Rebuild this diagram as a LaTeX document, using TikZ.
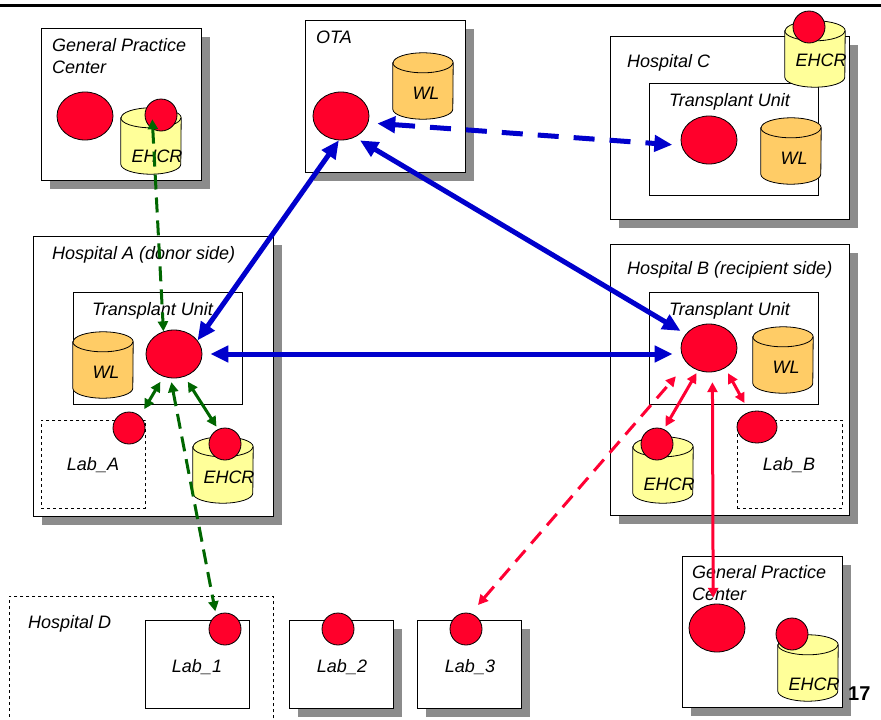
\documentclass[tikz,border=0pt]{standalone}
\usepackage{fontspec}
\setmainfont{Liberation Sans}
\usepackage{tikz}
\usetikzlibrary{arrows.meta, shapes.geometric, shadows}

\definecolor{orgred}{RGB}{255,0,43}
\definecolor{linkred}{RGB}{255,0,51}
\definecolor{linkblue}{RGB}{0,0,204}
\definecolor{linkgreen}{RGB}{0,102,0}
\definecolor{ehcryellow}{RGB}{255,255,153}
\definecolor{wlorange}{RGB}{255,204,102}
\definecolor{shadowgray}{RGB}{140,140,140}

\tikzset{
  txt/.style={font=\fontsize{18}{22}\selectfont\itshape, inner sep=0pt},
  site/.style={draw, line width=1.2pt, fill=white, anchor=north west, inner sep=0pt,
    drop shadow={shadow xshift=8pt, shadow yshift=-8pt, fill=shadowgray, opacity=1}},
  unit/.style={draw, line width=1pt, fill=white, anchor=north west, inner sep=0pt},
  lab/.style={draw, dashed, line width=0.8pt, anchor=north west, inner sep=0pt},
  actor/.style={ellipse, draw, line width=0.8pt, fill=orgred, minimum width=56pt, minimum height=48pt, inner sep=0pt},
  agent/.style={circle, draw, line width=0.8pt, fill=orgred, minimum size=32pt, inner sep=0pt},
  drumbox/.style={inner sep=0pt, minimum width=60pt, minimum height=66pt},
  bsolid/.style={draw=linkblue, line width=5pt, >={Triangle[length=18pt, width=16pt]}, <->},
  bdash/.style={bsolid, dash pattern=on 21pt off 15pt},
  gsolid/.style={draw=linkgreen, line width=3pt, >={Triangle[length=10pt, width=10pt]}, <->},
  gdash/.style={gsolid, dash pattern=on 15pt off 8pt},
  rsolid/.style={draw=linkred, line width=3pt, >={Triangle[length=10pt, width=10pt]}, <->},
  rdash/.style={rsolid, dash pattern=on 15pt off 9pt}
}

% name, x, y, fill, text, text shift
\newcommand{\drum}[6]{
  \node [drumbox] (#1) at (#2,#3) {};
  \filldraw [fill=#4, line width=0.8pt] ([yshift=-10pt]#1.north west) -- ([yshift=10pt]#1.south west)
    arc [start angle=180, end angle=360, x radius=30pt, y radius=10pt]
    -- ([yshift=-10pt]#1.north east)
    arc [start angle=0, end angle=180, x radius=30pt, y radius=10pt] -- cycle;
  \draw [line width=0.8pt] ([yshift=-10pt]#1.north west)
    arc [start angle=180, end angle=360, x radius=30pt, y radius=10pt];
  \node [txt, #6] (#1text) at (#1) {#5};
}

\begin{document}
\begin{tikzpicture}[x=1pt, y=-1pt]
  \useasboundingbox[fill=white] (0,0) rectangle (881,720);
  \draw [line width=3pt] (0,5.5) -- (881,5.5);

  \node [site, minimum width=160pt, minimum height=152pt] (gpcA) at (41,28) {};
  \node [txt, anchor=north west, align=left] (gpcAname) at (52,38) {General Practice\\Center};
  \node [actor] (gpcAu) at (85,116) {};
  \drum{gpcAdb}{151}{141}{ehcryellow}{EHCR}{xshift=6pt, yshift=-15pt}
  \node [agent] (gpcAc) at (161,115) {};

  \node [site, minimum width=160pt, minimum height=152pt] (ota) at (305,20) {};
  \node [txt, anchor=base west] (otaname) at (316,43) {OTA};
  \drum{otadb}{423}{86}{wlorange}{WL}{xshift=3pt, yshift=-7pt}
  \node [actor] (otau) at (341,116) {};

  \node [site, minimum width=239pt, minimum height=183pt] (hospC) at (610,36) {};
  \node [txt, anchor=base west] (hospCname) at (627,67) {Hospital C};
  \node [unit, minimum width=169pt, minimum height=112pt] (tuC) at (649,83) {};
  \node [txt, anchor=base west] (tuCname) at (669,106) {Transplant Unit};
  \node [actor] (tuCu) at (709,140) {};
  \drum{tuCdb}{791}{151}{wlorange}{WL}{xshift=3pt, yshift=-7pt}
  \drum{hospCdb}{815}{54}{ehcryellow}{EHCR}{xshift=6pt, yshift=-6pt}
  \node [agent] (hospCc) at (809,27) {};

  \node [site, minimum width=240pt, minimum height=280pt] (hospA) at (33,236) {};
  \node [txt, anchor=base west] (hospAname) at (52,259) {Hospital A (donor side)};
  \node [unit, minimum width=169pt, minimum height=112pt] (tuA) at (73,292) {};
  \node [txt, anchor=base west] (tuAname) at (92,315) {Transplant Unit};
  \drum{tuAdb}{103}{365}{wlorange}{WL}{xshift=3pt, yshift=-7pt}
  \node [actor] (tuAu) at (174,354) {};
  \node [lab, minimum width=104pt, minimum height=88pt] (labA) at (41,420) {};
  \node [txt, anchor=base] (labAname) at (93,470) {Lab\_A};
  \node [agent] (labAc) at (129,428) {};
  \drum{hospAdb}{223}{470}{ehcryellow}{EHCR}{xshift=6pt, yshift=-7pt}
  \node [agent] (hospAc) at (225,444) {};

  \node [site, minimum width=239pt, minimum height=271pt] (hospB) at (610,244) {};
  \node [txt, anchor=base west] (hospBname) at (627,274) {Hospital B (recipient side)};
  \node [unit, minimum width=169pt, minimum height=112pt] (tuB) at (649,292) {};
  \node [txt, anchor=base west] (tuBname) at (669,315) {Transplant Unit};
  \node [actor] (tuBu) at (709,348) {};
  \drum{tuBdb}{783}{360}{wlorange}{WL}{xshift=3pt, yshift=-7pt}
  \drum{hospBdb}{663}{470}{ehcryellow}{EHCR}{xshift=6pt, yshift=-14pt}
  \node [agent] (hospBc) at (657,444) {};
  \node [lab, minimum width=105pt, minimum height=88pt] (labB) at (737,420) {};
  \node [txt, anchor=base] (labBname) at (789,470) {Lab\_B};
  \node [actor, minimum width=40pt, minimum height=32pt] (labBu) at (757,427) {};

  \node [lab, minimum width=264pt, minimum height=140pt] (hospD) at (9,596) {};
  \node [txt, anchor=base west] (hospDname) at (28,628) {Hospital D};
  \node [unit, minimum width=104pt, minimum height=88pt] (lab1) at (145,620) {};
  \node [txt, anchor=base] (lab1name) at (197,672) {Lab\_1};
  \node [agent] (lab1c) at (225,629) {};
  \node [site, minimum width=104pt, minimum height=88pt] (lab2) at (289,620) {};
  \node [txt, anchor=base] (lab2name) at (342,672) {Lab\_2};
  \node [agent] (lab2c) at (338,629) {};
  \node [site, minimum width=104pt, minimum height=88pt] (lab3) at (417,620) {};
  \node [txt, anchor=base] (lab3name) at (470,672) {Lab\_3};
  \node [agent] (lab3c) at (466,629) {};

  \node [site, minimum width=160pt, minimum height=151pt] (gpcB) at (682,556) {};
  \node [txt, anchor=north west, align=left] (gpcBname) at (692,565) {General Practice\\Center};
  \node [actor] (gpcBu) at (717,628) {};
  \drum{gpcBdb}{808}{668}{ehcryellow}{EHCR}{xshift=6pt, yshift=-16pt}
  \node [agent] (gpcBc) at (792,634) {};
  \node [font=\fontsize{20}{20}\selectfont\bfseries, anchor=base west, inner sep=0pt] (pagenum) at (848,700) {17};

  \draw [gdash, shorten <=-10pt] (gpcAc.240) -- (tuAu.115);
  \draw [gsolid, shorten <=6pt, shorten >=8pt] (tuAu.-115) -- (labAc.47);
  \draw [gsolid, shorten <=6pt, shorten >=3pt] (tuAu.-65) -- (hospAc.115);
  \draw [gdash, shorten <=4pt, shorten >=4pt] (tuAu.-98) -- (lab1c.123);
  \draw [bsolid] (otau.265) -- (tuAu.30);
  \draw [bsolid, shorten <=6pt, shorten >=6pt] (otau.-57) -- (tuBu.149);
  \draw [bsolid, shorten <=8pt, shorten >=8pt] (tuAu.east) -- (tuAu.east -| tuBu.west);
  \draw [bdash, shorten <=9pt, shorten >=9pt] (otau.-14) -- (tuCu.191);
  \draw [rdash, shorten <=11pt, shorten >=17pt] (lab3c.73) -- (tuBu.-145);
  \draw [rsolid, shorten <=3pt, shorten >=3pt] (tuBu.-116) -- (hospBc.65);
  \draw [rsolid, shorten <=6pt, shorten >=10pt] (tuBu.-51) -- (labBu.117);
  \draw [rsolid, shorten <=10pt, shorten >=6pt] (tuBu.-82) -- (gpcBu.99);
\end{tikzpicture}
\end{document}
